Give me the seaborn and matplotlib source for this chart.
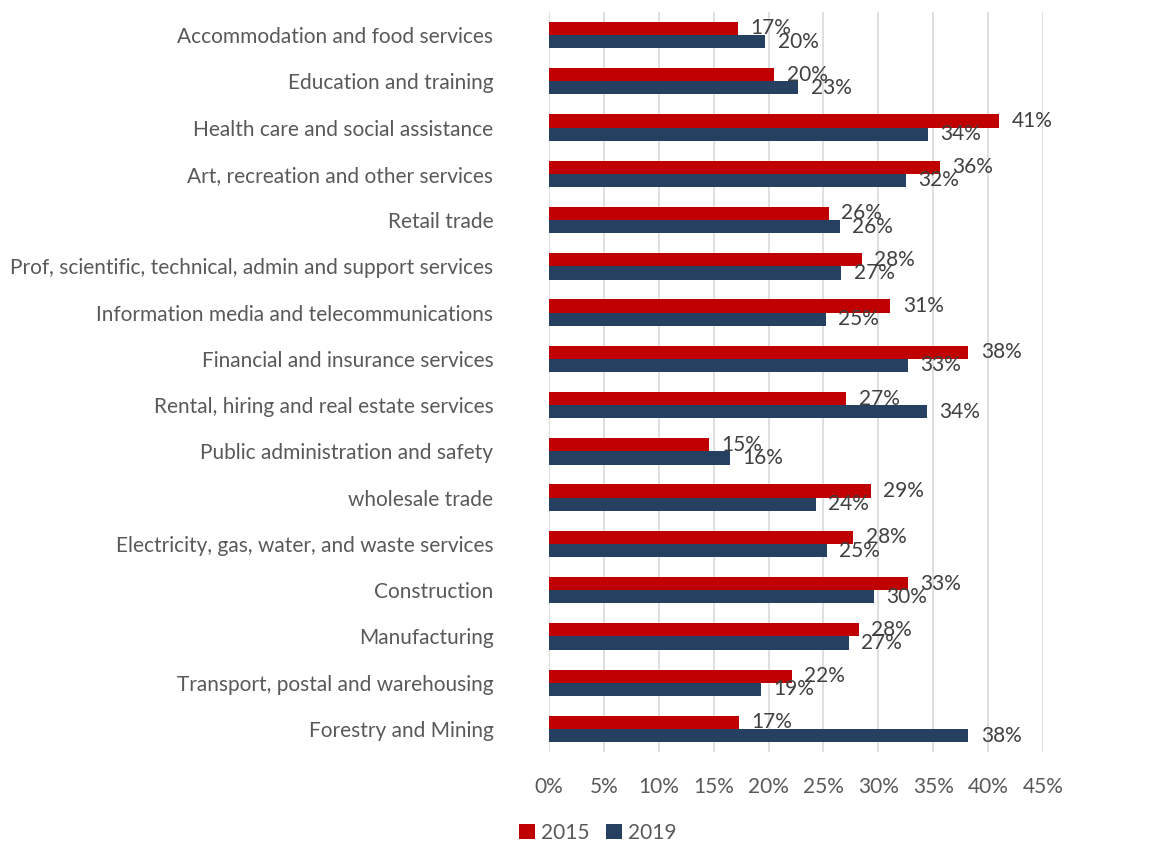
import matplotlib.pyplot as plt
import pandas as pd
import seaborn as sns

sectors = [
    'Accommodation and food services',
    'Education and training',
    'Health care and social assistance',
    'Art, recreation and other services',
    'Retail trade',
    'Prof, scientific, technical, admin and support services',
    'Information media and telecommunications',
    'Financial and insurance services',
    'Rental, hiring and real estate services',
    'Public administration and safety',
    'wholesale trade',
    'Electricity, gas, water, and waste services',
    'Construction',
    'Manufacturing',
    'Transport, postal and warehousing',
    'Forestry and Mining',
]
vals_2015 = [0.172, 0.205, 0.410, 0.356, 0.255, 0.285, 0.311, 0.382, 0.271,
             0.146, 0.293, 0.277, 0.327, 0.282, 0.221, 0.173]
vals_2019 = [0.197, 0.227, 0.345, 0.325, 0.265, 0.266, 0.252, 0.327, 0.344,
             0.165, 0.243, 0.253, 0.296, 0.273, 0.193, 0.382]
years = ['2015', '2019']
colors = ['#C00000', '#264061']

df = pd.DataFrame({
    'sector': sectors * 2,
    'value': vals_2015 + vals_2019,
    'year': [years[0]] * len(sectors) + [years[1]] * len(sectors),
})

sns.set_style('white')
plt.rcParams['font.family'] = ['Lato', 'DejaVu Sans']
text_col = '#595959'

fig = plt.figure(figsize=(11.68, 8.47), dpi=100)
ax = fig.add_axes([0.470, 0.112, 0.423, 0.874])

sns.barplot(data=df, y='sector', x='value', hue='year', palette=colors,
            orient='h', width=0.57, saturation=1, edgecolor='none', ax=ax)

# data labels, like excel's "outside end"
for cont in ax.containers:
    ax.bar_label(cont, labels=[f'{v:.0%}' for v in cont.datavalues],
                 padding=9, fontsize=15, color='#404040')

ax.set_xlim(0, 0.45)
ax.set_xticks([i * 0.05 for i in range(10)])
ax.set_xticklabels([f'{i * 5}%' for i in range(10)])
ax.xaxis.grid(True, color='#D9D9D9', linewidth=1.2)
ax.set_axisbelow(True)
for s in ax.spines.values():
    s.set_visible(False)
ax.set_xlabel('')
ax.set_ylabel('')
ax.tick_params(axis='y', length=0, pad=40, labelsize=15, labelcolor=text_col)
ax.tick_params(axis='x', length=0, pad=18, labelsize=15, labelcolor=text_col)

handles, labels = ax.get_legend_handles_labels()
ax.get_legend().remove()
leg = fig.legend(handles, labels, loc='center', bbox_to_anchor=(0.512, 0.017),
                 ncol=2, frameon=False, fontsize=15, handlelength=0.75,
                 handleheight=0.75, handletextpad=0.3, columnspacing=0.8,
                 borderpad=0.1)
for t in leg.get_texts():
    t.set_color(text_col)

fig.savefig('out.png', dpi=100)
